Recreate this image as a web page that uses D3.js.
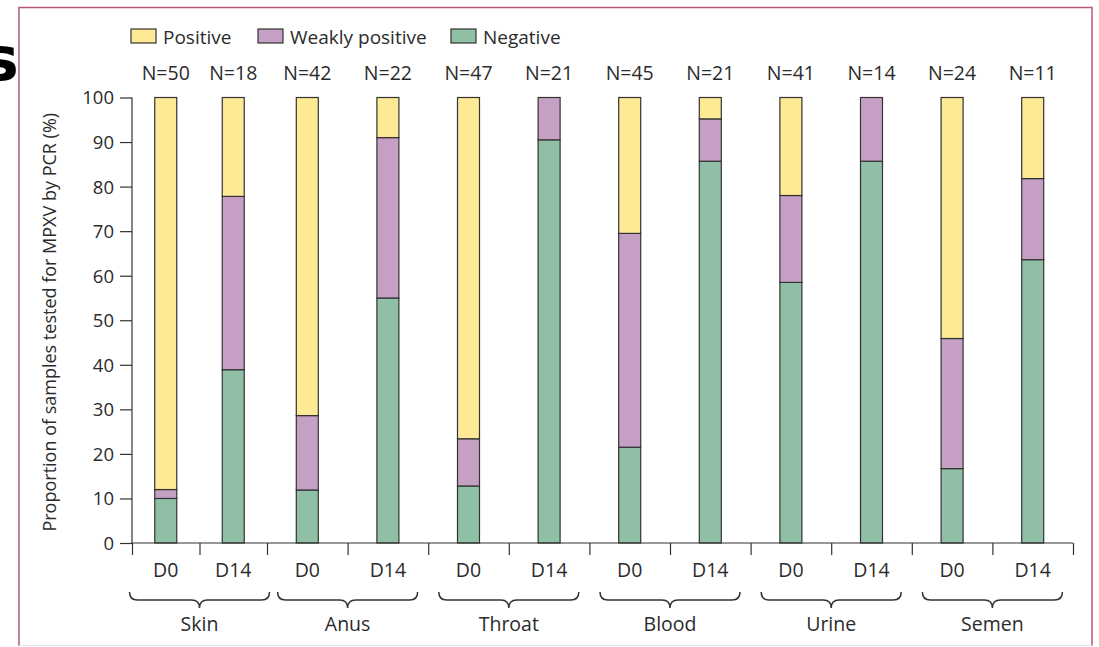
<!DOCTYPE html>
<html>
<head>
<meta charset="utf-8">
<script src="https://cdn.jsdelivr.net/npm/d3@7"></script>
<style>
  body { margin: 0; background: #fff; }
  text { font-family: "Open Sans", "Noto Sans", sans-serif; fill: #2b2b2b; }
</style>
</head>
<body>
<div id="plot"></div>
<script>
// values (% of samples)
const sites = ["Skin", "Anus", "Throat", "Blood", "Urine", "Semen"];
const days = ["D0", "D14"];
const nLabels = ["N=50", "N=18", "N=42", "N=22", "N=47", "N=21", "N=45", "N=21", "N=41", "N=14", "N=24", "N=11"];
const negative = [10, 38.9, 11.9, 55, 12.8, 90.5, 21.5, 85.7, 58.5, 85.7, 16.7, 63.6];
const weakly = [2, 38.9, 16.7, 36, 10.6, 9.5, 48, 9.5, 19.5, 14.3, 29.2, 18.2];
const positive = [88, 22.2, 71.4, 9, 76.6, 0, 30.5, 4.8, 22, 0, 54.1, 18.2];
const yTicks = [0, 10, 20, 30, 40, 50, 60, 70, 80, 90, 100];

const w = 1099, h = 647;
const colors = {positive: "#fee994", weakly: "#c6a0c4", negative: "#8fbfa5"};

const svg = d3.select("#plot").append("svg")
    .attr("width", w)
    .attr("height", h);

// frame
svg.append("path")
    .attr("d", "M19,646 L19,7.5 L1092,7.5 L1092,646")
    .attr("fill", "none")
    .attr("stroke", "#b5577f")
    .attr("stroke-width", 1.5);
svg.append("line")
    .attr("x1", 19).attr("x2", 1092).attr("y1", 645.5).attr("y2", 645.5)
    .attr("stroke", "#e4e4e4");

svg.append("text")
    .attr("x", -17).attr("y", 80)
    .style("font-family", "DejaVu Sans")
    .style("font-size", "60px")
    .style("font-weight", "bold")
    .style("fill", "#000")
    .text("s");

const rows = nLabels.map((n, i) => ({
  i: i, n: n,
  negative: negative[i], weakly: weakly[i], positive: positive[i]
}));

// x: slot boundaries (first group narrower, as in the figure)
const x = d3.scaleLinear()
    .domain([0, 2, 12])
    .range([132, 267, 1073]);
const y = d3.scaleLinear()
    .domain([0, 100])
    .range([543, 97.5]);
const barW = 22;

const series = d3.stack().keys(["negative", "weakly", "positive"])(rows);

svg.append("g")
  .selectAll("g")
  .data(series)
  .join("g")
    .attr("fill", d => colors[d.key])
  .selectAll("rect")
  .data(d => d.filter(s => s[1] - s[0] > 0))
  .join("rect")
    .attr("x", d => x(d.data.i + 0.5) - barW / 2)
    .attr("y", d => y(d[1]))
    .attr("width", barW)
    .attr("height", d => y(d[0]) - y(d[1]))
    .attr("stroke", "#333")
    .attr("stroke-width", 1.2);

// y axis
const yAxis = d3.axisLeft(y)
    .tickValues(yTicks)
    .tickSize(12)
    .tickPadding(6);
const gy = svg.append("g")
    .attr("transform", "translate(132,0)")
    .call(yAxis);
gy.select(".domain").attr("d", `M0,${y(100)}V${y(0)}`).attr("stroke", "#333").attr("stroke-width", 1.2);
gy.selectAll(".tick line").attr("stroke", "#333").attr("stroke-width", 1.2);
gy.selectAll(".tick text")
    .style("font-size", "18.5px")
    .attr("dy", "0.35em");

svg.append("text")
    .attr("transform", `translate(56,${(y(0) + y(100)) / 2 + 2}) rotate(-90)`)
    .attr("text-anchor", "middle")
    .style("font-size", "18px")
    .text("Proportion of samples tested for MPXV by PCR (%)");

// x axis
const xAxis = d3.axisBottom(x)
    .tickValues(d3.range(13))
    .tickSize(12)
    .tickFormat("");
const gx = svg.append("g")
    .attr("transform", "translate(0,543)")
    .call(xAxis);
gx.select(".domain").attr("d", `M${x(0)},0H${x(12)}`).attr("stroke", "#333").attr("stroke-width", 1.2);
gx.selectAll(".tick line").attr("stroke", "#333").attr("stroke-width", 1.2);

svg.append("g")
  .selectAll("text")
  .data(rows)
  .join("text")
    .attr("x", d => x(d.i + 0.5))
    .attr("y", 577)
    .attr("text-anchor", "middle")
    .style("font-size", "19.5px")
    .text(d => days[d.i % 2]);

// N labels
svg.append("g")
  .selectAll("text")
  .data(rows)
  .join("text")
    .attr("x", d => x(d.i + 0.5))
    .attr("y", 80)
    .attr("text-anchor", "middle")
    .style("font-size", "19.5px")
    .text(d => d.n);

// braces + site labels
function brace(cx, half, top) {
  const r = 8;
  return `M${cx - half},${top} Q${cx - half},${top + r} ${cx - half + r},${top + r}` +
         ` L${cx - r},${top + r} Q${cx},${top + r} ${cx},${top + 2 * r}` +
         ` Q${cx},${top + r} ${cx + r},${top + r}` +
         ` L${cx + half - r},${top + r} Q${cx + half},${top + r} ${cx + half},${top}`;
}
const siteG = svg.append("g")
  .selectAll("g")
  .data(sites)
  .join("g");
siteG.append("path")
    .attr("d", (d, i) => brace(x(2 * i + 1), 70, 592))
    .attr("fill", "none")
    .attr("stroke", "#333")
    .attr("stroke-width", 1.5);
siteG.append("text")
    .attr("x", (d, i) => x(2 * i + 1))
    .attr("y", 631)
    .attr("text-anchor", "middle")
    .style("font-size", "19.5px")
    .text(d => d);

// legend
const legend = [
  {key: "positive", label: "Positive", x: 131},
  {key: "weakly", label: "Weakly positive", x: 258},
  {key: "negative", label: "Negative", x: 451}
];
const lg = svg.append("g")
  .selectAll("g")
  .data(legend)
  .join("g")
    .attr("transform", d => `translate(${d.x},29)`);
lg.append("rect")
    .attr("width", 25)
    .attr("height", 14)
    .attr("fill", d => colors[d.key])
    .attr("stroke", "#333")
    .attr("stroke-width", 1.2);
lg.append("text")
    .attr("x", 32)
    .attr("y", 15)
    .style("font-size", "19px")
    .text(d => d.label);
</script>
</body>
</html>
